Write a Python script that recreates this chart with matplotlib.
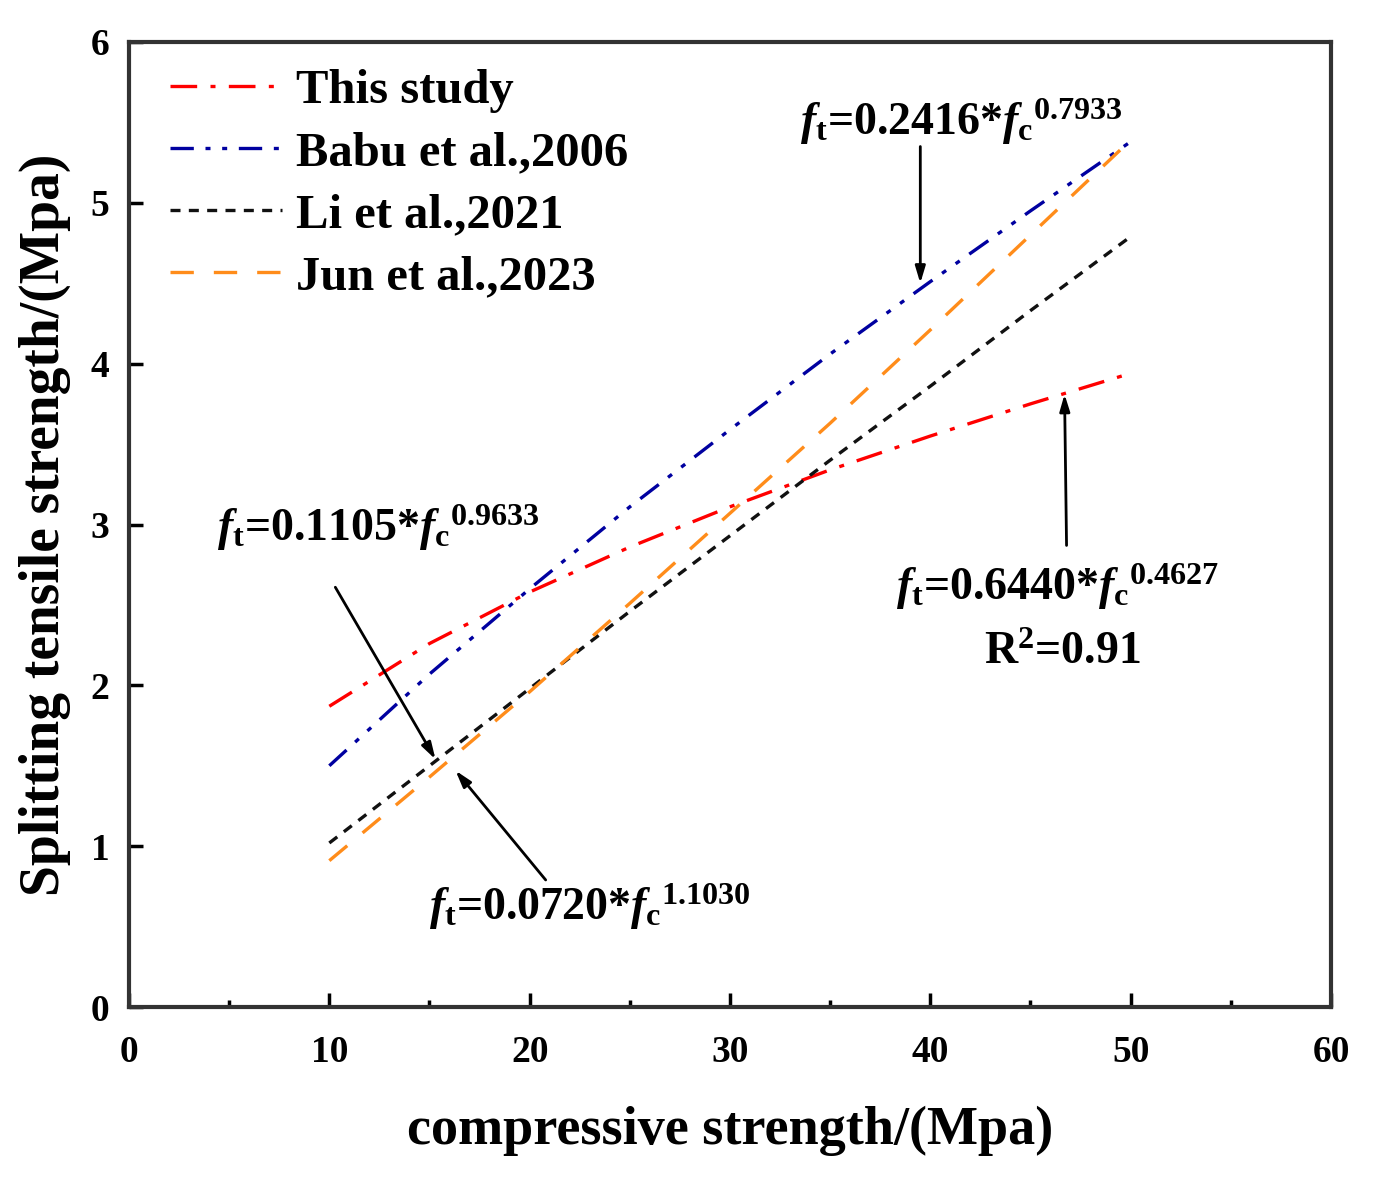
import matplotlib
matplotlib.use("Agg")
import matplotlib.pyplot as plt

plt.rcParams['font.family'] = ['Liberation Serif', 'DejaVu Serif']
plt.rcParams['font.weight'] = 'bold'
plt.rcParams['mathtext.fontset'] = 'custom'
plt.rcParams['mathtext.rm'] = 'Liberation Serif:bold'
plt.rcParams['mathtext.it'] = 'Liberation Serif:italic:bold'
plt.rcParams['mathtext.bf'] = 'Liberation Serif:bold'

# values
fc = [10, 15, 20, 25, 30, 35, 40, 45, 50]
this_study = [1.87, 2.26, 2.58, 2.86, 3.11, 3.34, 3.55, 3.75, 3.94]
babu_2006 = [1.50, 2.07, 2.60, 3.11, 3.59, 4.06, 4.51, 4.95, 5.38]
li_2021 = [1.02, 1.50, 1.98, 2.46, 2.93, 3.40, 3.86, 4.33, 4.79]
jun_2023 = [0.91, 1.43, 1.96, 2.51, 3.07, 3.63, 4.21, 4.80, 5.39]

series_labels = ['This study', 'Babu et al.,2006', 'Li et al.,2021', 'Jun et al.,2023']
x_ticks = [0, 10, 20, 30, 40, 50, 60]
y_ticks = [0, 1, 2, 3, 4, 5, 6]

fig = plt.figure(figsize=(13.84, 11.86), dpi=100)
ax = fig.add_axes([0.0932, 0.1509, 0.8685, 0.8137])

lw = 2.4
ax.plot(fc, this_study, color='#FF0000', lw=lw, dashes=(8, 4, 1.5, 4), label=series_labels[0])
ax.plot(fc, babu_2006, color='#0000A0', lw=lw, dashes=(7, 3.5, 1.5, 3.5, 1.5, 3.5), label=series_labels[1])
ax.plot(fc, li_2021, color='#111111', lw=lw, dashes=(3, 2.5), label=series_labels[2])
ax.plot(fc, jun_2023, color='#FF8C1A', lw=lw, dashes=(7, 6), label=series_labels[3])

ax.set_xlim(0, 60)
ax.set_ylim(0, 6)
ax.set_xticks(x_ticks)
ax.set_yticks(y_ticks)
ax.set_xticks([5, 15, 25, 35, 45, 55], minor=True)
ax.tick_params(axis='both', which='major', direction='in', length=10, width=2.5,
               labelsize=27, top=False, right=False)
ax.tick_params(axis='x', which='major', pad=20)
ax.tick_params(axis='y', which='major', pad=14)
ax.tick_params(axis='both', which='minor', direction='in', length=5, width=2.5,
               top=False, right=False)
for s in ax.spines.values():
    s.set_linewidth(3)
    s.set_color('#333333')

ax.set_xlabel('compressive strength/(Mpa)', fontsize=39, fontweight='bold', labelpad=26)
ax.set_ylabel('Splitting tensile strength/(Mpa)', fontsize=40, fontweight='bold', labelpad=14)

leg = ax.legend(loc='upper left', frameon=False, fontsize=35, handlelength=2.3,
                handletextpad=0.3, labelspacing=0.37, borderaxespad=0.0,
                bbox_to_anchor=(0.018, 0.992))

fs = 33
arrowprops = dict(arrowstyle='-|>,head_length=1.0,head_width=0.3', color='black', lw=2.0,
                  shrinkA=0, shrinkB=0)

ax.text(33.5, 5.42, r'$f_{\mathrm{t}}$=0.2416*$f_{\mathrm{c}}{}^{\mathrm{0.7933}}$', fontsize=fs)
ax.annotate('', xy=(39.5, 4.50), xytext=(39.5, 5.35), arrowprops=arrowprops)

ax.text(4.4, 2.90, r'$f_{\mathrm{t}}$=0.1105*$f_{\mathrm{c}}{}^{\mathrm{0.9633}}$', fontsize=fs)
ax.annotate('', xy=(15.3, 1.54), xytext=(10.3, 2.61), arrowprops=arrowprops)

ax.text(15.0, 0.54, r'$f_{\mathrm{t}}$=0.0720*$f_{\mathrm{c}}{}^{\mathrm{1.1030}}$', fontsize=fs)
ax.annotate('', xy=(16.3, 1.47), xytext=(20.8, 0.79), arrowprops=arrowprops)

ax.text(38.3, 2.53, r'$f_{\mathrm{t}}$=0.6440*$f_{\mathrm{c}}{}^{\mathrm{0.4627}}$', fontsize=fs)
ax.text(46.6, 2.13, r'R$^{\mathrm{2}}$=0.91', fontsize=fs, ha='center')
ax.annotate('', xy=(46.7, 3.81), xytext=(46.8, 2.87), arrowprops=arrowprops)

fig.savefig('out.png', dpi=100)
